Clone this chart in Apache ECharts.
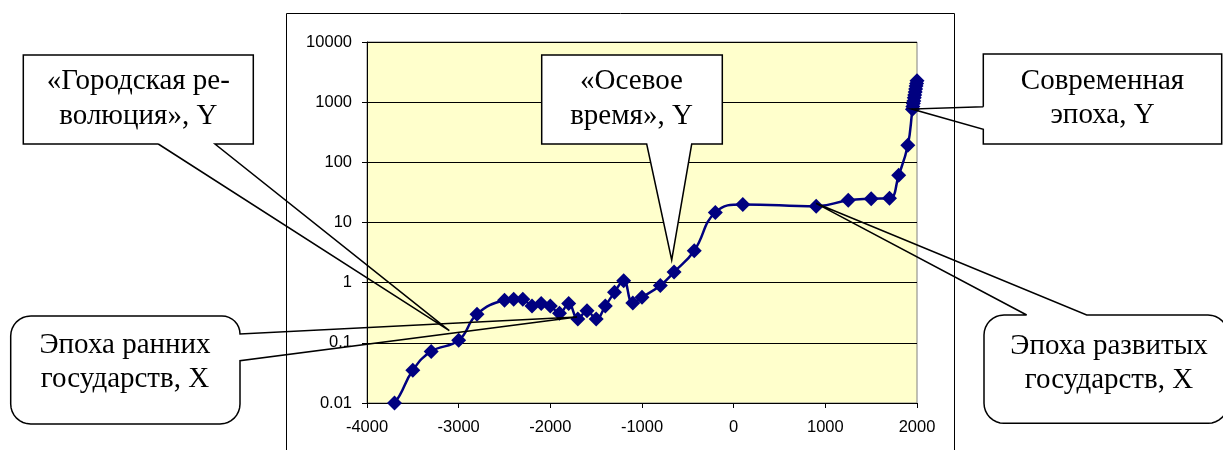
<!DOCTYPE html>
<html>
<head>
<meta charset="utf-8">
<script src="https://cdn.jsdelivr.net/npm/echarts@6/dist/echarts.min.js"></script>
<style>
  html, body { margin: 0; padding: 0; background: #fff; }
  #chart { width: 1223px; height: 450px; }
</style>
</head>
<body>
<div id="chart"></div>
<script>
// ---- data ----
const years = [
  -4000, -3700, -3500, -3300, -3000, -2800, -2500, -2400, -2300, -2200,
  -2100, -2000, -1900, -1800, -1700, -1600, -1500, -1400, -1300, -1200,
  -1100, -1000, -800, -650, -430, -200, 100, 900, 1250, 1500,
  1700, 1800, 1900, 1950, 1955, 1960, 1965, 1970, 1975, 1980,
  1985, 1990, 1995, 2000
];
const values = [
  0.004, 0.01, 0.035, 0.072, 0.11, 0.30, 0.51, 0.53, 0.53, 0.41,
  0.45, 0.41, 0.31, 0.45, 0.25, 0.34, 0.25, 0.41, 0.69, 1.08,
  0.46, 0.57, 0.90, 1.5, 3.4, 14.7, 20, 18.6, 23.5, 24.8,
  25.2, 61, 192, 760, 850, 950, 1050, 1180, 1320, 1480,
  1650, 1850, 2050, 2270
];
const xTickLabels = ['-4000', '-3000', '-2000', '-1000', '0', '1000', '2000'];
const yTickLabels = ['0.01', '0.1', '1', '10', '100', '1000', '10000'];

const callouts = [
  '«Городская ре-\nволюция», Y',
  'Эпоха ранних\nгосударств, X',
  '«Осевое\nвремя», Y',
  'Современная\nэпоха, Y',
  'Эпоха развитых\nгосударств, X'
];

// ---- helpers for annotation shapes ----
function arc(cx, cy, r, a0, a1) {
  const pts = [], n = 8;
  for (let i = 0; i <= n; i++) {
    const a = (a0 + (a1 - a0) * i / n) * Math.PI / 180;
    pts.push([cx + r * Math.cos(a), cy + r * Math.sin(a)]);
  }
  return pts;
}
const serif = '29px "Liberation Serif", "Times New Roman", serif';
function textEl(x, y, t) {
  return {
    type: 'text', x: x, y: y, z: 120,
    style: { text: t, font: serif, fill: '#000', textAlign: 'center', textVerticalAlign: 'middle',
             align: 'center', verticalAlign: 'middle', lineHeight: 34.5 }
  };
}
function outlineEl(points, fill) {
  if (fill) {
    return { type: 'polygon', z: 110, shape: { points: points },
             style: { fill: fill, stroke: '#000', lineWidth: 1.5 } };
  }
  return { type: 'polyline', z: 110, shape: { points: points.concat([points[0]]) },
           style: { fill: null, stroke: '#000', lineWidth: 1.5, lineJoin: 'miter' } };
}

const r = 20;
const box2 = [[30.7, 316], [222, 316]]
  .concat(arc(222, 334, 18, -90, 0))
  .concat([[577, 317], [240, 360.7], [240, 404]])
  .concat(arc(220, 404, r, 0, 90))
  .concat([[30.7, 424]])
  .concat(arc(30.7, 404, r, 90, 180))
  .concat([[10.7, 336]])
  .concat(arc(30.7, 336, r, 180, 270));

const box5 = [[1026.7, 315], [816, 203.3], [1086.7, 315], [1208, 315]]
  .concat(arc(1208, 335, r, -90, 0))
  .concat([[1228, 403.3]])
  .concat(arc(1208, 403.3, r, 0, 90))
  .concat([[1004, 423.3]])
  .concat(arc(1004, 403.3, r, 90, 180))
  .concat([[984, 335]])
  .concat(arc(1004, 335, r, 180, 270));

const graphics = [
  // outer chart border
  { type: 'rect', z: 5, shape: { x: 286.5, y: 13.5, width: 668, height: 460 },
    style: { fill: null, stroke: '#000', lineWidth: 1 } },

  // «Городская революция»
  { type: 'rect', z: 105, shape: { x: 23.3, y: 55, width: 230, height: 89 }, style: { fill: '#fff' } },
  outlineEl([[158.3, 144], [23.3, 144], [23.3, 55], [253.3, 55], [253.3, 144], [215, 144], [449.3, 330.7]]),
  textEl(138.3, 99, callouts[0]),

  // Эпоха ранних государств
  { type: 'rect', z: 105, shape: { x: 10.7, y: 316, width: 229.3, height: 108, r: r }, style: { fill: '#fff' } },
  outlineEl(box2),
  textEl(125, 362.5, callouts[1]),

  // «Осевое время»
  outlineEl([[541.7, 55], [722.3, 55], [722.3, 144], [691.7, 144], [671.7, 260], [646.7, 144], [541.7, 144]], '#fff'),
  textEl(631.5, 99, callouts[2]),

  // Современная эпоха
  { type: 'rect', z: 105, shape: { x: 983.3, y: 54, width: 238.4, height: 90 }, style: { fill: '#fff' } },
  outlineEl([[983.3, 106.7], [983.3, 54], [1221.7, 54], [1221.7, 144], [983.3, 144], [983.3, 129.3], [911.7, 109]]),
  textEl(1102.5, 98.5, callouts[3]),

  // Эпоха развитых государств
  { type: 'rect', z: 105, shape: { x: 984, y: 315, width: 244, height: 108.3, r: r }, style: { fill: '#fff' } },
  outlineEl(box5),
  textEl(1109, 363.3, callouts[4])
];

// ---- chart ----
const chart = echarts.init(document.getElementById('chart'), null, { renderer: 'canvas' });
const axisFont = { fontFamily: 'Liberation Sans, Arial, sans-serif', fontSize: 16.5, color: '#000' };

const option = {
  animation: false,
  backgroundColor: '#fff',
  grid: { left: 367, top: 42, width: 550, height: 361, show: true,
          backgroundColor: '#FFFFCC', borderColor: '#808080', borderWidth: 1 },
  xAxis: {
    type: 'value', min: -4000, max: 2000, interval: 1000,
    axisLine: { show: true, onZero: false, lineStyle: { color: '#000', width: 1 } },
    axisTick: { show: true, length: 5, lineStyle: { color: '#000' } },
    axisLabel: Object.assign({ margin: 16, formatter: function (v) {
      const i = Math.round((v + 4000) / 1000); return xTickLabels[i] !== undefined ? xTickLabels[i] : String(v);
    } }, axisFont),
    splitLine: { show: false }
  },
  yAxis: {
    type: 'log', logBase: 10, min: 0.01, max: 10000,
    axisLine: { show: true, onZero: false, lineStyle: { color: '#000', width: 1 } },
    axisTick: { show: true, length: 5, lineStyle: { color: '#000' } },
    axisLabel: Object.assign({ margin: 15, formatter: function (v) {
      const e = Math.round(Math.log10(v)); return yTickLabels[e + 2];
    } }, axisFont),
    splitLine: { show: true, lineStyle: { color: '#000', width: 1 } }
  },
  series: [{
    type: 'line',
    data: years.map(function (y, i) { return [y, values[i]]; }),
    smooth: 0.45,
    symbol: 'diamond',
    symbolSize: 15,
    showAllSymbol: true,
    clip: true,
    lineStyle: { color: '#000080', width: 2.5 },
    itemStyle: { color: '#000080' },
    z: 10
  }],
  graphic: graphics
};
chart.setOption(option);
</script>
</body>
</html>
